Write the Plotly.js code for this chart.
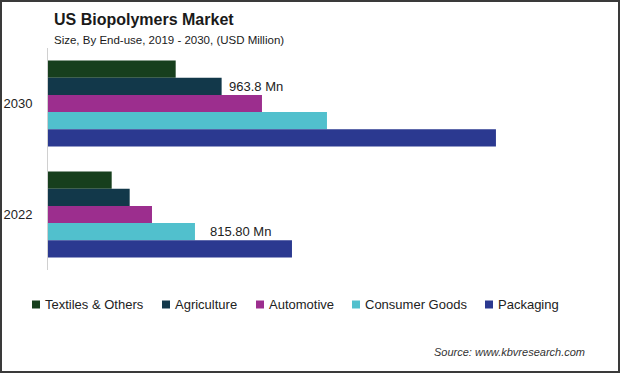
<!DOCTYPE html>
<html><head><meta charset="utf-8">
<script src="https://cdn.plot.ly/plotly-3.0.1.min.js"></script>
<style>html,body{margin:0;padding:0;background:#fff}#chart{width:620px;height:373px}</style>
</head><body><div id="chart"></div>
<script>
// ---- data ----
const years = ['2030', '2022'];
const seriesNames = ['Textiles & Others', 'Agriculture', 'Automotive', 'Consumer Goods', 'Packaging'];
const textiles = [708.7, 353.5];
const agriculture = [963.8, 453.4];
const automotive = [1187.7, 577.2];
const consumerGoods = [1548.5, 815.8];
const packaging = [2486.4, 1354.2];
const valueLabels = ['963.8 Mn', '815.80 Mn'];

// ---- styles ----
const colors = ['#173f1d', '#12384a', '#9c2e8e', '#51c0cd', '#2b3990'];
const FONT = '"Liberation Sans", Arial, sans-serif';
const W = 620, H = 373, L = 48, R = 20, T = 48, B = 103;
const pw = W - L - R, ph = H - T - B;
const px = x => (x - L) / pw;
const py = y => (H - B - y) / ph;
const BARGAP = 0.225;

const seriesValues = [textiles, agriculture, automotive, consumerGoods, packaging];
const traces = seriesValues.map((vals, i) => ({
  type: 'bar', orientation: 'h', name: seriesNames[i],
  x: vals, y: years, marker: {color: colors[i], line: {width: 0}},
  hoverinfo: 'skip'
}));

const nS = seriesValues.length;
const barW = (1 - BARGAP) / nS;
const barOffset = k => -(1 - BARGAP) / 2 + (k + 0.5) * barW;

const annotations = [
  {text: 'US Biopolymers Market', xref: 'paper', yref: 'paper', x: px(52), y: py(20), xanchor: 'left', yanchor: 'middle', showarrow: false, font: {family: FONT, size: 16, color: '#1a1a1a', weight: 'bold'}},
  {text: 'Size, By End-use, 2019 - 2030, (USD Million)', xref: 'paper', yref: 'paper', x: px(52), y: py(40), xanchor: 'left', yanchor: 'middle', showarrow: false, font: {family: FONT, size: 11.5, color: '#1a1a1a'}},
  {text: valueLabels[0], xref: 'x', yref: 'y', x: agriculture[0], y: 0 + barOffset(1), xanchor: 'left', yanchor: 'middle', xshift: 5, showarrow: false, font: {family: FONT, size: 13, color: '#222'}},
  {text: valueLabels[1], xref: 'x', yref: 'y', x: consumerGoods[1], y: 1 + barOffset(3), xanchor: 'left', yanchor: 'middle', xshift: 13, showarrow: false, font: {family: FONT, size: 13, color: '#222'}},
  {text: 'Source: www.kbvresearch.com', xref: 'paper', yref: 'paper', x: px(587), y: py(352), xanchor: 'right', yanchor: 'middle', showarrow: false, font: {family: FONT, size: 11, color: '#333', style: 'italic'}}
];

const shapes = [
  {type: 'rect', xref: 'paper', yref: 'paper', x0: px(1), x1: px(619), y0: py(1), y1: py(372), line: {color: '#3a3a3a', width: 2}, fillcolor: 'rgba(0,0,0,0)'}
];

// custom legend
const legX = [32, 162, 256, 352, 485];
const legY = 304.5;
seriesNames.forEach((n, i) => {
  shapes.push({type: 'rect', xref: 'paper', yref: 'paper', x0: px(legX[i]), x1: px(legX[i] + 8), y0: py(legY - 4), y1: py(legY + 4), line: {width: 0}, fillcolor: colors[i]});
  annotations.push({text: n, xref: 'paper', yref: 'paper', x: px(legX[i] + 10.5), y: py(legY), xanchor: 'left', yanchor: 'middle', showarrow: false, font: {family: FONT, size: 13, color: '#222'}});
});

const layout = {
  width: W, height: H,
  margin: {l: L, r: R, t: T, b: B, pad: 0},
  paper_bgcolor: '#fff', plot_bgcolor: '#fff',
  barmode: 'group', bargap: BARGAP, bargroupgap: 0,
  showlegend: false,
  xaxis: {range: [0, 3064], visible: false, showgrid: false, zeroline: false, fixedrange: true},
  yaxis: {type: 'category', categoryorder: 'array', categoryarray: years, autorange: 'reversed',
    showline: true, linecolor: '#d0d0d0', linewidth: 1, ticks: '', showgrid: false, zeroline: false,
    tickfont: {family: FONT, size: 13, color: '#222'}, ticklabelstandoff: 12, fixedrange: true},
  annotations: annotations,
  shapes: shapes
};

Plotly.newPlot('chart', traces, layout, {displayModeBar: false, staticPlot: true});
</script>
</body></html>
